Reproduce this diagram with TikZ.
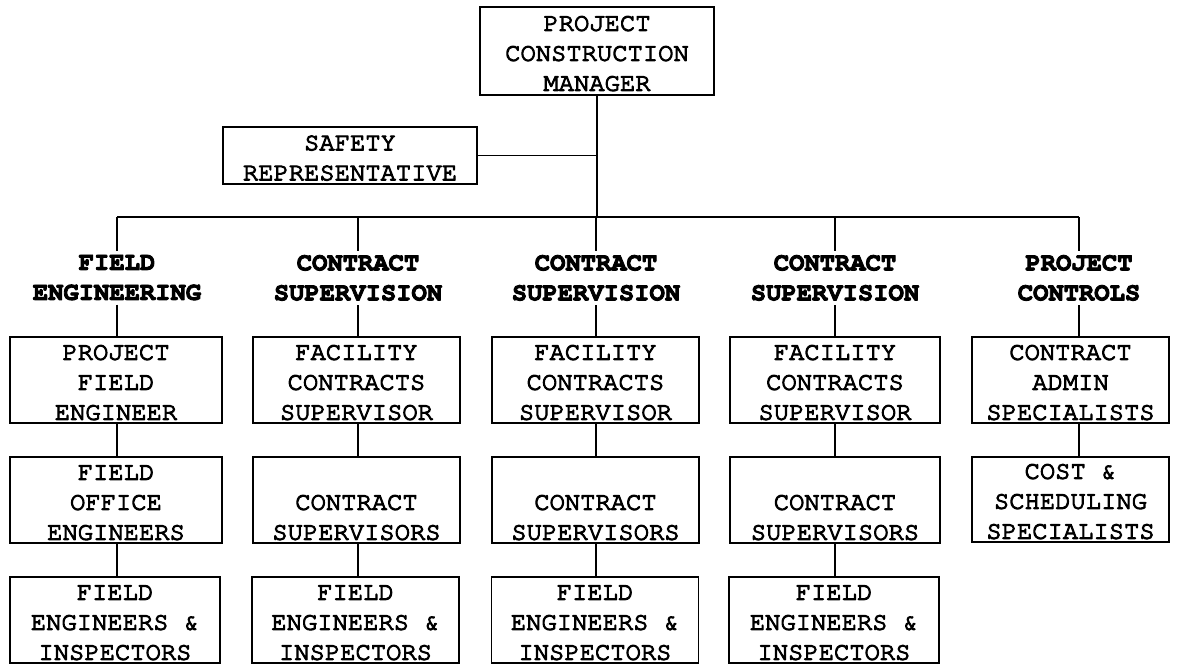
\documentclass[tikz,border=0pt]{standalone}
\usepackage[T1]{fontenc}
\usepackage{courier}
\renewcommand{\familydefault}{\ttdefault}
\newcommand{\inkon}[1]{\special{pdf:literal direct 2 Tr #1 w 1 j}}
\newcommand{\inkoff}{\special{pdf:literal direct 0 Tr}}
\tikzset{
  box/.style={draw, line width=1.7pt, minimum width=#1, minimum height=86pt, inner sep=0pt},
  box/.default=207pt,
  txt/.style={anchor=south, align=center, inner sep=0pt, font=\fontsize{25.5}{30}\selectfont},
  hdr/.style={align=center, inner sep=4pt, font=\fontsize{25.5}{30}\selectfont\bfseries},
  conn/.style={line width=1.5pt},
}
\begin{document}
\begin{tikzpicture}[x=1pt,y=-1pt]
\useasboundingbox (0,0) rectangle (1187,666);
% top
\node[box=234pt, minimum height=88pt] (pcm) at (597,51) {};
\node[txt] (pcmt) at ([yshift=4.5pt]pcm.south) {\inkon{1.1}PROJECT\\CONSTRUCTION\\MANAGER\inkoff};
\node[box=254pt, minimum height=57pt] (saf) at (350,155.5) {};
\node[txt] (saft) at ([yshift=4pt]saf.south) {\inkon{1.1}SAFETY\\REPRESENTATIVE\inkoff};
% bus
\coordinate (bus1) at (117,217);
\coordinate (bus2) at (358,217);
\coordinate (bus3) at (596,217);
\coordinate (bus4) at (835,217);
\coordinate (bus5) at (1079,217);
\coordinate (busc) at (597,217);
% headers
\node[hdr] (h1) at (117,278) {\inkon{0.9}FIELD\\ENGINEERING\inkoff};
\node[hdr] (h2) at (358,278) {\inkon{0.9}CONTRACT\\SUPERVISION\inkoff};
\node[hdr] (h3) at (596,278) {\inkon{0.9}CONTRACT\\SUPERVISION\inkoff};
\node[hdr] (h4) at (835,278) {\inkon{0.9}CONTRACT\\SUPERVISION\inkoff};
\node[hdr] (h5) at (1079,278) {\inkon{0.9}PROJECT\\CONTROLS\inkoff};
% column 1
\node[box=212pt] (b11) at (116,380) {};
\node[txt] at ([yshift=3.5pt]b11.south) {\inkon{1.1}PROJECT\\FIELD\\ENGINEER\inkoff};
\node[box=212pt] (b12) at (116,500) {};
\node[txt] at ([yshift=3.5pt]b12.south) {\inkon{1.1}FIELD\\OFFICE\\ENGINEERS\inkoff};
\node[box=210pt] (b13) at (115,620) {};
\node[txt] at ([yshift=3.5pt]b13.south) {\inkon{1.1}FIELD\\ENGINEERS \&\\INSPECTORS\inkoff};
% column 2
\node[box] (b21) at (356.5,380) {};
\node[txt] at ([yshift=3.5pt]b21.south) {\inkon{1.1}FACILITY\\CONTRACTS\\SUPERVISOR\inkoff};
\node[box] (b22) at (356.5,500) {};
\node[txt] at ([yshift=3.5pt]b22.south) {\inkon{1.1}CONTRACT\\SUPERVISORS\inkoff};
\node[box] (b23) at (355.5,620) {};
\node[txt] at ([yshift=3.5pt]b23.south) {\inkon{1.1}FIELD\\ENGINEERS \&\\INSPECTORS\inkoff};
% column 3
\node[box] (b31) at (595.5,380) {};
\node[txt] at ([yshift=3.5pt]b31.south) {\inkon{1.1}FACILITY\\CONTRACTS\\SUPERVISOR\inkoff};
\node[box] (b32) at (595.5,500) {};
\node[txt] at ([yshift=3.5pt]b32.south) {\inkon{1.1}CONTRACT\\SUPERVISORS\inkoff};
\node[box] (b33) at (595,620) {};
\node[txt] at ([yshift=3.5pt]b33.south) {\inkon{1.1}FIELD\\ENGINEERS \&\\INSPECTORS\inkoff};
% column 4
\node[box=210pt] (b41) at (835,380) {};
\node[txt] at ([yshift=3.5pt]b41.south) {\inkon{1.1}FACILITY\\CONTRACTS\\SUPERVISOR\inkoff};
\node[box=210pt] (b42) at (835,500) {};
\node[txt] at ([yshift=3.5pt]b42.south) {\inkon{1.1}CONTRACT\\SUPERVISORS\inkoff};
\node[box=210pt] (b43) at (834,620) {};
\node[txt] at ([yshift=3.5pt]b43.south) {\inkon{1.1}FIELD\\ENGINEERS \&\\INSPECTORS\inkoff};
% column 5
\node[box=197pt] (b51) at (1070.5,380) {};
\node[txt] at ([yshift=3.5pt]b51.south) {\inkon{1.1}CONTRACT\\ADMIN\\SPECIALISTS\inkoff};
\node[box=197pt, minimum height=85pt] (b52) at (1070.5,499.5) {};
\node[txt] at ([yshift=3.5pt]b52.south) {\inkon{1.1}COST \&\\SCHEDULING\\SPECIALISTS\inkoff};
% connectors
\draw[conn] (pcm.south) -- (busc);
\draw[conn] (saf.east) -- (saf.east -| pcm.south);
\draw[conn] (bus1) -- (bus5);
\foreach \i in {1,...,5} {
  \draw[conn] (bus\i) -- (h\i.north);
  \draw[conn] (h\i.south) -- (h\i.south |- b\i1.north);
  \draw[conn] (b\i1.south -| h\i) -- (b\i2.north -| h\i);
}
\foreach \i in {1,...,4} {
  \draw[conn] (b\i2.south -| h\i) -- (b\i3.north -| h\i);
}
\end{tikzpicture}
\end{document}
